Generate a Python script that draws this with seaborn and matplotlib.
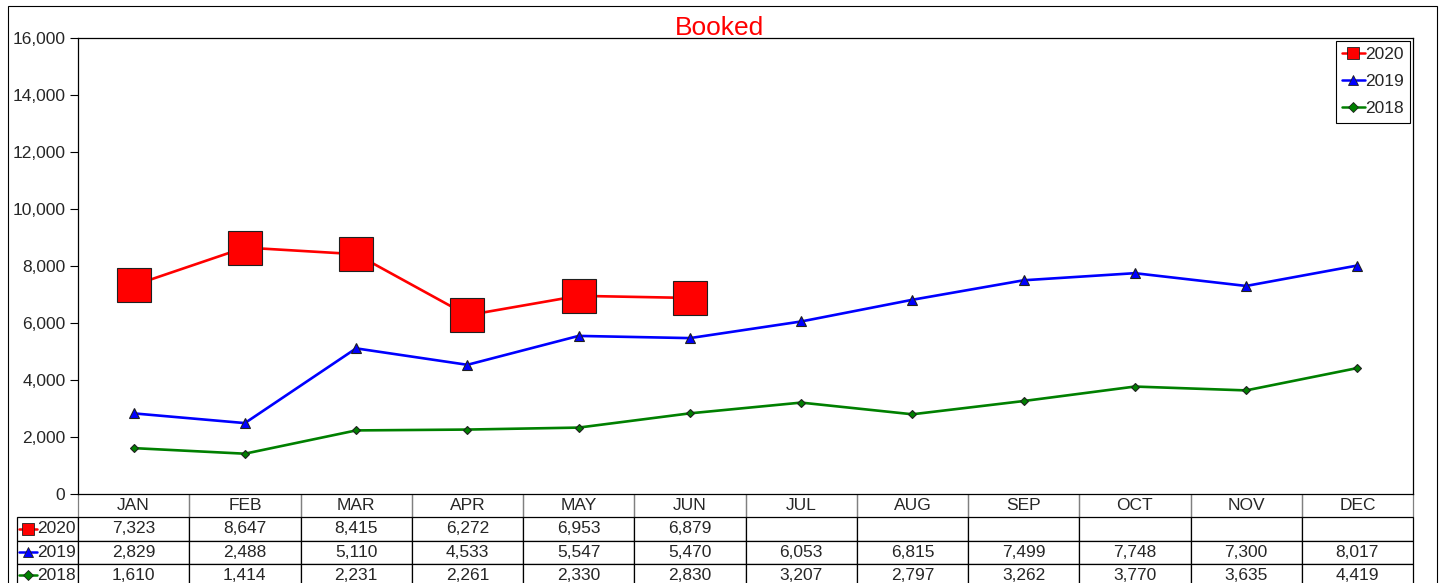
import numpy as np
import pandas as pd
import seaborn as sns
from matplotlib import pyplot as plt
from matplotlib.lines import Line2D
from matplotlib.patches import Rectangle
from matplotlib.ticker import StrMethodFormatter


MONTHS = ["JAN", "FEB", "MAR", "APR", "MAY", "JUN",
          "JUL", "AUG", "SEP", "OCT", "NOV", "DEC"]
BOOKED_2020 = [7323, 8647, 8415, 6272, 6953, 6879]
BOOKED_2019 = [2829, 2488, 5110, 4533, 5547, 5470,
               6053, 6815, 7499, 7748, 7300, 8017]
BOOKED_2018 = [1610, 1414, 2231, 2261, 2330, 2830,
               3207, 2797, 3262, 3770, 3635, 4419]
YEARS = ["2020", "2019", "2018"]

# year -> (values, color, marker, size in plot, size in legend)
STYLES = {
    "2020": (BOOKED_2020, "red", "s", 24, 8),
    "2019": (BOOKED_2019, "blue", "^", 6.5, 7),
    "2018": (BOOKED_2018, "green", "D", 4.5, 5),
}

W, H = 1442, 583
FS = 12.5


def px_x(x):
    return (x - 78) / 1335


def px_y(y):
    return (494 - y) / 456


def main():
    sns.set_style("white")
    plt.rcParams["font.family"] = ["Liberation Sans", "DejaVu Sans"]

    fig = plt.figure(figsize=(W / 100, H / 100), dpi=100)
    fig.patches.append(Rectangle((8 / W, -0.01), 1429 / W, 1 - 6 / H + 0.01,
                                 transform=fig.transFigure, fill=False,
                                 edgecolor="black", linewidth=0.8))
    ax = fig.add_axes([78 / W, (H - 494) / H, 1335 / W, 456 / H])

    for year in YEARS:
        vals, color, marker, ms, _ = STYLES[year]
        df = pd.DataFrame({"month": np.arange(len(vals)), "value": vals})
        sns.lineplot(data=df, x="month", y="value", ax=ax, color=color,
                     marker=marker, markersize=ms, markeredgecolor="#202020",
                     markeredgewidth=0.8, linewidth=1.9, zorder=3)

    ax.set_xlim(-0.5, len(MONTHS) - 0.5)
    ax.set_ylim(0, 16000)
    ax.set_yticks(np.arange(0, 16001, 2000))
    ax.yaxis.set_major_formatter(StrMethodFormatter("{x:,.0f}"))
    ax.set_xticks([])
    ax.set_xlabel(None)
    ax.set_ylabel(None)
    ax.tick_params(axis="y", direction="out", length=6, width=0.8,
                   labelsize=FS, left=True, pad=3, color="black")
    for sp in ax.spines.values():
        sp.set_color("black")
        sp.set_linewidth(0.9)

    fig.text(0.499, 1 - 28 / H, "Booked", color="red", fontsize=19,
             ha="center", va="center")

    handles = [Line2D([], [], color=STYLES[y][1], marker=STYLES[y][2],
                      markersize=STYLES[y][4], markeredgecolor="#202020",
                      markeredgewidth=0.6, linewidth=1.8, label=y)
               for y in YEARS]
    leg = ax.legend(handles=handles, loc="upper right", fontsize=FS,
                    handlelength=1.3, handletextpad=0.05, labelspacing=0.7,
                    borderpad=0.35, borderaxespad=0.15, fancybox=False,
                    framealpha=1, edgecolor="black")
    leg.get_frame().set_linewidth(0.8)

    # data table under the axis
    rows = []
    for year in YEARS:
        vals = STYLES[year][0]
        cells = [""] + [f"{v:,}" for v in vals]
        cells += [""] * (len(MONTHS) + 1 - len(cells))
        rows.append(cells)
    col_w = [61] + [1335 / 12] * 12
    tbl = ax.table(cellText=rows, colLabels=[""] + MONTHS, cellLoc="center",
                   colWidths=[w / 1396 for w in col_w],
                   bbox=[px_x(17), px_y(587), (1413 - 17) / 1335, 93 / 456])
    tbl.auto_set_font_size(False)
    tbl.set_fontsize(FS)
    for (r, c), cell in tbl.get_celld().items():
        cell.set_linewidth(0.9)
        if r == 0:
            cell.visible_edges = "LR" if c > 0 else ""
            cell.set_edgecolor("#808080")
        else:
            cell.set_edgecolor("black")

    row_h = 93 / 4
    for i, year in enumerate(YEARS):
        yc = px_y(494 + row_h * (i + 1.5))
        _, color, marker, _, ms = STYLES[year]
        ax.add_line(Line2D([px_x(19), px_x(37)], [yc, yc], color=color,
                           linewidth=1.8, transform=ax.transAxes,
                           clip_on=False))
        ax.add_line(Line2D([px_x(28)], [yc], color=color, marker=marker,
                           markersize=ms, markeredgecolor="#202020",
                           markeredgewidth=0.6, transform=ax.transAxes,
                           clip_on=False))
        ax.text(px_x(37), yc, year, fontsize=FS, ha="left", va="center",
                transform=ax.transAxes)

    fig.savefig("out.png", dpi=100)


if __name__ == "__main__":
    main()
